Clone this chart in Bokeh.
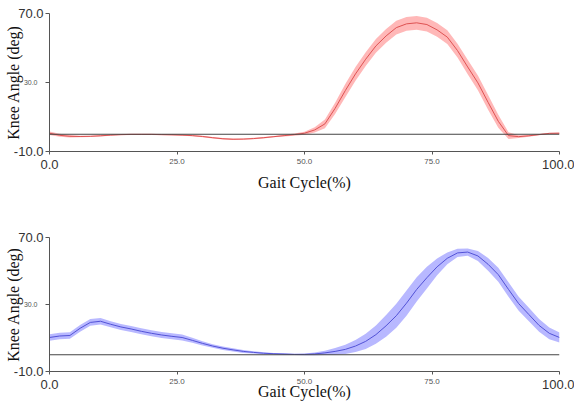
import numpy as np
from bokeh.plotting import figure
from bokeh.models import Range1d, FixedTicker, Span, LinearAxis, NumeralTickFormatter
from bokeh.layouts import column
from bokeh.embed import file_html
from bokeh.resources import INLINE

# ---- data (gait cycle %, knee angle in deg) ----
gait = list(range(0, 101, 2))

red_mean = [0.6, -0.6, -1.2, -1.3, -1.2, -0.9, -0.5, -0.2, -0.1, -0.1,
            -0.1, -0.2, -0.3, -0.5, -0.8, -1.3, -2.0, -2.6, -2.9, -2.8,
            -2.5, -2.0, -1.4, -0.8, -0.2, 0.6, 2.5, 6.0, 15.0, 25.3,
            35.0, 43.5, 51.2, 57.0, 61.8, 64.0, 64.6, 63.6, 60.5, 56.3,
            48.5, 39.0, 29.8, 18.5, 7.5, -0.8, -1.4, -0.9, -0.2, 0.5, 0.6]
red_sd = [1.0, 0.9, 0.7, 0.5, 0.4, 0.4, 0.4, 0.4, 0.4, 0.4,
          0.4, 0.4, 0.4, 0.4, 0.4, 0.4, 0.4, 0.4, 0.4, 0.4,
          0.4, 0.4, 0.4, 0.5, 0.6, 0.9, 1.5, 2.5, 3.3, 3.8,
          4.0, 4.0, 4.0, 4.0, 4.0, 4.0, 4.0, 4.0, 4.0, 4.0,
          4.0, 4.2, 4.3, 4.3, 3.8, 2.0, 0.8, 0.5, 0.4, 0.4, 0.4]

blue_mean = [10.3, 11.2, 11.5, 15.8, 19.3, 20.0, 18.2, 16.6, 15.4, 14.0,
             12.8, 11.8, 11.0, 10.3, 8.6, 6.8, 5.2, 3.9, 2.9, 2.0,
             1.4, 0.9, 0.6, 0.4, 0.2, 0.2, 0.5, 1.1, 2.0, 3.2,
             5.2, 8.0, 12.0, 17.3, 23.3, 30.8, 39.0, 46.0, 52.5, 57.6,
             60.8, 61.3, 59.0, 54.0, 47.8, 39.0, 30.5, 24.0, 17.5, 12.8, 10.3]
blue_sd = [2.0, 2.0, 2.0, 2.0, 2.0, 2.0, 1.8, 1.8, 1.8, 1.8,
           1.8, 1.8, 1.8, 1.8, 1.5, 1.3, 1.0, 1.0, 1.0, 0.9,
           0.7, 0.6, 0.5, 0.5, 0.4, 0.5, 0.8, 1.3, 2.0, 2.8,
           3.6, 4.5, 5.5, 6.5, 7.2, 7.5, 7.2, 6.5, 5.0, 3.5,
           2.5, 2.2, 3.0, 3.8, 4.2, 4.3, 4.2, 4.0, 3.8, 3.5, 3.0]

x_ticks = [0, 25, 50, 75, 100]
x_ticks_mid = [25, 50, 75]
y_ticks = [-10, 30, 70]
y_ticks_mid = [30]
x_title = "Gait Cycle(%)"
y_title = "Knee Angle (deg)"

AX = "#555555"


def style_axis(ax, size, color):
    ax.axis_line_color = AX
    ax.major_tick_line_color = AX
    ax.minor_tick_line_color = None
    ax.major_tick_in = 0
    ax.minor_tick_out = 0
    ax.minor_tick_in = 0
    ax.major_label_text_font = "Liberation Sans"
    ax.major_label_text_font_size = size
    ax.major_label_text_color = color
    ax.formatter = NumeralTickFormatter(format="0.0")


def title_style(ax, text, standoff):
    ax.axis_label = text
    ax.axis_label_text_font = "Liberation Serif"
    ax.axis_label_text_font_size = "16px"
    ax.axis_label_text_font_style = "normal"
    ax.axis_label_text_color = "#111111"
    ax.axis_label_standoff = standoff


def panel(mean, sd, band_color, line_color, height, b_top, b_bottom, x_title_standoff):
    p = figure(width=574, height=height, output_backend="svg", toolbar_location=None,
               x_range=Range1d(0, 100), y_range=Range1d(-10, 70),
               min_border_left=49, min_border_right=15, min_border_top=b_top,
               min_border_bottom=b_bottom)
    p.outline_line_color = None
    p.grid.visible = False

    m = np.array(mean, dtype=float)
    s = np.array(sd, dtype=float)
    p.varea(x=gait, y1=m - s, y2=m + s, fill_color=band_color, fill_alpha=1.0)
    p.line(gait, mean, line_color=line_color, line_width=1)
    p.add_layout(Span(location=0, dimension="width", line_color="#444444", line_width=1))

    # inner axes: axis line, all ticks, large end labels
    xa, ya = p.xaxis[0], p.yaxis[0]
    style_axis(xa, "13px", "#333333")
    style_axis(ya, "13px", "#333333")
    xa.ticker = FixedTicker(ticks=x_ticks)
    ya.ticker = FixedTicker(ticks=y_ticks)
    xa.major_tick_out = 3
    xa.major_label_standoff = 2
    ya.major_tick_out = 4
    ya.major_label_standoff = 2
    xa.major_label_overrides = {t: " " for t in x_ticks_mid}
    ya.major_label_overrides = {t: " " for t in y_ticks_mid}

    # outer axes: small middle labels (pulled back under the inner ones) + titles
    xo = LinearAxis(ticker=FixedTicker(ticks=x_ticks_mid))
    style_axis(xo, "8px", "#555555")
    xo.axis_line_color = None
    xo.major_tick_line_color = None
    xo.major_tick_out = 0
    xo.major_label_standoff = -16
    title_style(xo, x_title, x_title_standoff)
    p.add_layout(xo, "below")

    yo = LinearAxis(ticker=FixedTicker(ticks=y_ticks_mid))
    style_axis(yo, "7px", "#555555")
    yo.axis_line_color = None
    yo.major_tick_line_color = None
    yo.major_tick_out = 0
    yo.major_label_standoff = -27
    title_style(yo, y_title, -1)
    p.add_layout(yo, "left")
    return p


p1 = panel(red_mean, red_sd, "#ffb8b8", "#de5252", 224, 13, 73, 7)
p2 = panel(blue_mean, blue_sd, "#b8b8ff", "#5252d6", 179, 13, 32, -4)

layout = column(p1, p2, spacing=0)
open("out.html", "w").write(file_html(layout, INLINE))
